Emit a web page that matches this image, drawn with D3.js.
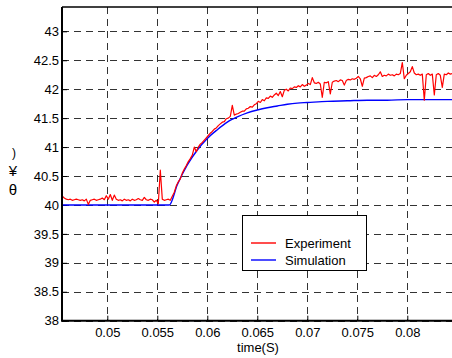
<!DOCTYPE html>
<html>
<head>
<meta charset="utf-8">
<script src="https://cdn.jsdelivr.net/npm/d3@7/dist/d3.min.js"></script>
<style>
  html, body { margin: 0; padding: 0; background: #fff; }
  svg { display: block; font-family: "Liberation Sans", Arial, sans-serif; }
</style>
</head>
<body>
<svg id="chart" width="452" height="358"></svg>
<script>
// Sampling grid of the measured trace (seconds)
const expStart = 0.0455;
const expStep = 0.0002;

// Measured voltage (Experiment)
const experiment = [
  40.15, 40.12, 40.10, 40.09, 40.10, 40.08, 40.09, 40.10, 40.09, 40.08,
  40.09, 40.07, 40.10, 40.01, 40.08, 40.09, 40.10, 40.08, 40.09, 40.10,
  40.12, 40.09, 40.16, 40.10, 40.18, 40.08, 40.17, 40.10, 40.08, 40.09,
  40.07, 40.10, 40.08, 40.09, 40.07, 40.10, 40.08, 40.09, 40.11, 40.09,
  40.08, 40.13, 40.09, 40.08, 40.10, 40.09, 40.05, 40.08, 40.02, 40.60,
  40.10, 40.08, 40.09, 40.10, 40.08, 40.15, 40.22, 40.33, 40.40, 40.45,
  40.55, 40.62, 40.68, 40.75, 40.80, 40.86, 41.00, 40.92, 41.00, 41.05,
  41.08, 41.12, 41.16, 41.20, 41.24, 41.27, 41.31, 41.33, 41.37, 41.40,
  41.43, 41.44, 41.49, 41.50, 41.53, 41.72, 41.55, 41.57, 41.58, 41.60,
  41.62, 41.62, 41.66, 41.67, 41.70, 41.69, 41.73, 41.75, 41.79, 41.77,
  41.82, 41.80, 41.85, 41.84, 41.88, 41.86, 41.90, 41.93, 41.89, 41.96,
  41.87, 41.98, 42.00, 41.97, 42.02, 42.01, 42.04, 42.03, 42.06, 42.04,
  42.08, 42.05, 42.07, 42.10, 42.08, 42.20, 42.11, 42.10, 42.12, 42.09,
  41.86, 42.12, 42.11, 42.13, 41.92, 42.12, 42.14, 42.15, 42.13, 42.16,
  42.15, 42.07, 42.15, 42.17, 42.16, 42.18, 42.17, 42.19, 42.22, 42.18,
  42.05, 42.19, 42.20, 42.22, 42.23, 42.20, 42.24, 42.22, 42.25, 42.30,
  42.22, 42.24, 42.23, 42.26, 42.24, 42.25, 42.23, 42.26, 42.25, 42.27,
  42.46, 42.18, 42.24, 42.27, 42.30, 42.39, 42.28, 42.25, 42.26, 42.24,
  42.26, 41.81, 42.25, 42.27, 42.24, 42.26, 41.90, 42.25, 42.27, 42.24,
  42.03, 42.26, 42.25, 42.28, 42.26, 42.27
];

// Simulated voltage (Simulation)
const simTime = [0.0455, 0.0562, 0.0570, 0.0580, 0.0590, 0.0600, 0.0610, 0.0620,
  0.0630, 0.0640, 0.0650, 0.0660, 0.0670, 0.0680, 0.0690, 0.0700, 0.0720,
  0.0740, 0.0760, 0.0780, 0.0800, 0.0845];
const simulation = [40.00, 40.00, 40.35, 40.69, 40.95, 41.15, 41.30, 41.43,
  41.52, 41.59, 41.64, 41.68, 41.71, 41.74, 41.76, 41.77, 41.79,
  41.80, 41.81, 41.81, 41.82, 41.82];

const xTicks = [0.05, 0.055, 0.06, 0.065, 0.07, 0.075, 0.08];
const yTicks = [38, 38.5, 39, 39.5, 40, 40.5, 41, 41.5, 42, 42.5, 43];
const seriesNames = ["Experiment", "Simulation"];
const seriesColors = ["#ff0000", "#0000ff"];
const xTitle = "time(S)";

const svg = d3.select("#chart");
const plotLeft = 62, plotRight = 452, plotTop = 7, plotBottom = 320.7;

const x = d3.scaleLinear().domain([0.04547, 0.08447]).range([plotLeft, plotRight]);
const y = d3.scaleLinear().domain([38, 43.42]).range([plotBottom, plotTop]);

// dashed grid
const grid = svg.append("g").attr("stroke", "#333").attr("stroke-width", 1)
  .attr("stroke-dasharray", "7,5").attr("fill", "none");
grid.selectAll("line.v").data(xTicks).join("line").attr("class", "v")
  .attr("x1", d => Math.round(x(d)) + 0.5).attr("x2", d => Math.round(x(d)) + 0.5)
  .attr("y1", plotTop).attr("y2", plotBottom);
grid.selectAll("line.h").data(yTicks).join("line").attr("class", "h")
  .attr("y1", d => Math.round(y(d)) + 0.5).attr("y2", d => Math.round(y(d)) + 0.5)
  .attr("x1", plotLeft).attr("x2", plotRight);

// axes with inward ticks
const yAxis = d3.axisLeft(y).tickValues(yTicks).tickSizeInner(-5).tickSizeOuter(0)
  .tickPadding(3).tickFormat(d3.format("~g"));
const gy = svg.append("g").attr("transform", `translate(${plotLeft},0)`).call(yAxis);
const xAxis = d3.axisBottom(x).tickValues(xTicks).tickSizeInner(-5).tickSizeOuter(0)
  .tickPadding(7).tickFormat(d3.format("~g"));
const gx = svg.append("g").attr("transform", `translate(0,${plotBottom})`).call(xAxis);
[gx, gy].forEach(g => {
  g.select(".domain").remove();
  g.selectAll(".tick line").attr("stroke", "#000").attr("stroke-width", 1);
  g.selectAll(".tick text").attr("fill", "#000").attr("font-size", 13)
    .attr("font-family", "Liberation Sans, Arial, sans-serif");
});

// data lines
const expPts = experiment.map((v, i) => [expStart + i * expStep, v]);
const simPts = simTime.map((t, i) => [t, simulation[i]]);
const simLine = d3.line().x(d => x(d[0])).y(d => y(d[1])).curve(d3.curveMonotoneX);
const expLine = d3.line().x(d => x(d[0])).y(d => y(d[1]));
svg.append("path").datum(simPts).attr("d", simLine)
  .attr("fill", "none").attr("stroke", seriesColors[1]).attr("stroke-width", 1.4);
svg.append("path").datum(expPts).attr("d", expLine)
  .attr("fill", "none").attr("stroke", seriesColors[0]).attr("stroke-width", 1.2)
  .attr("stroke-linejoin", "round");

// frame
svg.append("line").attr("x1", plotLeft).attr("x2", plotLeft).attr("y1", plotTop).attr("y2", plotBottom + 1)
  .attr("stroke", "#000").attr("stroke-width", 2);
svg.append("line").attr("x1", plotLeft).attr("x2", plotRight).attr("y1", plotBottom).attr("y2", plotBottom)
  .attr("stroke", "#000").attr("stroke-width", 2);
svg.append("line").attr("x1", plotLeft).attr("x2", plotRight).attr("y1", plotTop).attr("y2", plotTop)
  .attr("stroke", "#000").attr("stroke-width", 1.5);

// x title
svg.append("text").attr("x", 258).attr("y", 352).attr("text-anchor", "middle")
  .attr("font-size", 13).text(xTitle);

// y title glyphs
const yl = svg.append("text").attr("text-anchor", "middle").attr("fill", "#000");
yl.append("tspan").attr("x", 14).attr("y", 157).attr("font-size", 12).text(")");
yl.append("tspan").attr("x", 13).attr("y", 176).attr("font-size", 15).text("¥");
yl.append("tspan").attr("x", 13).attr("y", 195).attr("font-size", 15).text("θ");

// legend
const lg = svg.append("g");
lg.append("rect").attr("x", 242.5).attr("y", 215.5).attr("width", 124).attr("height", 55)
  .attr("fill", "#fff").attr("stroke", "#000").attr("stroke-width", 1);
seriesNames.forEach((name, i) => {
  const ly = 243 + i * 17;
  lg.append("line").attr("x1", 251).attr("x2", 276).attr("y1", ly).attr("y2", ly)
    .attr("stroke", seriesColors[i]).attr("stroke-width", 1.4);
  lg.append("text").attr("x", 285).attr("y", ly + 4.5).attr("font-size", 13).text(name);
});
</script>
</body>
</html>
